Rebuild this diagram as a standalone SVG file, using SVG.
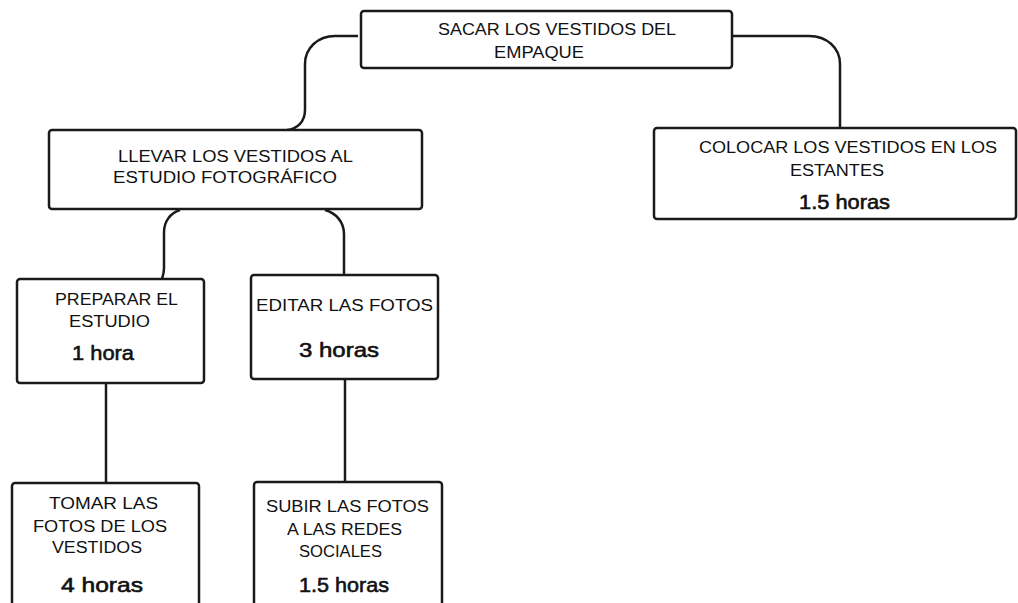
<svg xmlns="http://www.w3.org/2000/svg" width="1018" height="603" viewBox="0 0 1018 603">
<style>
.box{fill:#fff;stroke:#1a1a1a;stroke-width:2.5}
.con{fill:none;stroke:#1a1a1a;stroke-width:2.5}
.t{font-family:"Liberation Sans","DejaVu Sans",sans-serif;font-size:16px;fill:#111;text-anchor:middle}
.h{font-family:"Liberation Sans","DejaVu Sans",sans-serif;font-size:21px;fill:#111;stroke:#111;stroke-width:0.6;text-anchor:middle}
</style>
<rect width="1018" height="603" fill="#fff"/>
<g id="connectors">
<path class="con" d="M358,36 H335 C318,36 305,48 305,64 V110 C305,122 297,129 287,130"/>
<path class="con" d="M732,36 H809 C827,36 840,48 840,64 V128"/>
<path class="con" d="M180,210 C170,213 164,222 164,232 V268 C164,273 163,276 162,279"/>
<path class="con" d="M325,210 C336,213 344,222 344,234 V275"/>
<path class="con" d="M106,383 V483"/>
<path class="con" d="M345,379 V482"/>
</g>
<g id="sacar">
<rect class="box" x="361" y="11" width="371" height="57" rx="3"/>
<text class="t" x="557" y="35" textLength="238" lengthAdjust="spacingAndGlyphs">SACAR LOS VESTIDOS DEL</text>
<text class="t" x="539" y="58" textLength="90" lengthAdjust="spacingAndGlyphs">EMPAQUE</text>
</g>
<g id="llevar">
<rect class="box" x="49" y="130" width="373" height="79" rx="3"/>
<text class="t" x="235.5" y="162" textLength="235" lengthAdjust="spacingAndGlyphs">LLEVAR LOS VESTIDOS AL</text>
<text class="t" x="225" y="183" textLength="224" lengthAdjust="spacingAndGlyphs">ESTUDIO FOTOGRÁFICO</text>
</g>
<g id="colocar">
<rect class="box" x="654" y="128" width="362" height="91" rx="3"/>
<text class="t" x="848" y="153" textLength="298" lengthAdjust="spacingAndGlyphs">COLOCAR LOS VESTIDOS EN LOS</text>
<text class="t" x="837" y="176" textLength="94" lengthAdjust="spacingAndGlyphs">ESTANTES</text>
<text class="h" x="844.5" y="209" textLength="91" lengthAdjust="spacingAndGlyphs">1.5 horas</text>
</g>
<g id="preparar">
<rect class="box" x="17" y="279" width="187" height="104" rx="3"/>
<text class="t" x="116.5" y="305" textLength="123" lengthAdjust="spacingAndGlyphs">PREPARAR EL</text>
<text class="t" x="109.5" y="327" textLength="81" lengthAdjust="spacingAndGlyphs">ESTUDIO</text>
<text class="h" x="103" y="360" textLength="62" lengthAdjust="spacingAndGlyphs">1 hora</text>
</g>
<g id="editar">
<rect class="box" x="251" y="275" width="187" height="104" rx="3"/>
<text class="t" x="344.5" y="311" textLength="177" lengthAdjust="spacingAndGlyphs">EDITAR LAS FOTOS</text>
<text class="h" x="339" y="357" textLength="80" lengthAdjust="spacingAndGlyphs">3 horas</text>
</g>
<g id="tomar">
<rect class="box" x="12" y="483" width="187" height="135" rx="3"/>
<text class="t" x="103.5" y="509" textLength="109" lengthAdjust="spacingAndGlyphs">TOMAR LAS</text>
<text class="t" x="100" y="532" textLength="134" lengthAdjust="spacingAndGlyphs">FOTOS DE LOS</text>
<text class="t" x="97" y="553" textLength="90" lengthAdjust="spacingAndGlyphs">VESTIDOS</text>
<text class="h" x="102" y="592" textLength="82" lengthAdjust="spacingAndGlyphs">4 horas</text>
</g>
<g id="subir">
<rect class="box" x="254" y="482" width="188" height="136" rx="3"/>
<text class="t" x="347.5" y="512" textLength="163" lengthAdjust="spacingAndGlyphs">SUBIR LAS FOTOS</text>
<text class="t" x="344.5" y="535" textLength="115" lengthAdjust="spacingAndGlyphs">A LAS REDES</text>
<text class="t" x="340.5" y="557" textLength="83" lengthAdjust="spacingAndGlyphs">SOCIALES</text>
<text class="h" x="344" y="592" textLength="90" lengthAdjust="spacingAndGlyphs">1.5 horas</text>
</g>
</svg>
